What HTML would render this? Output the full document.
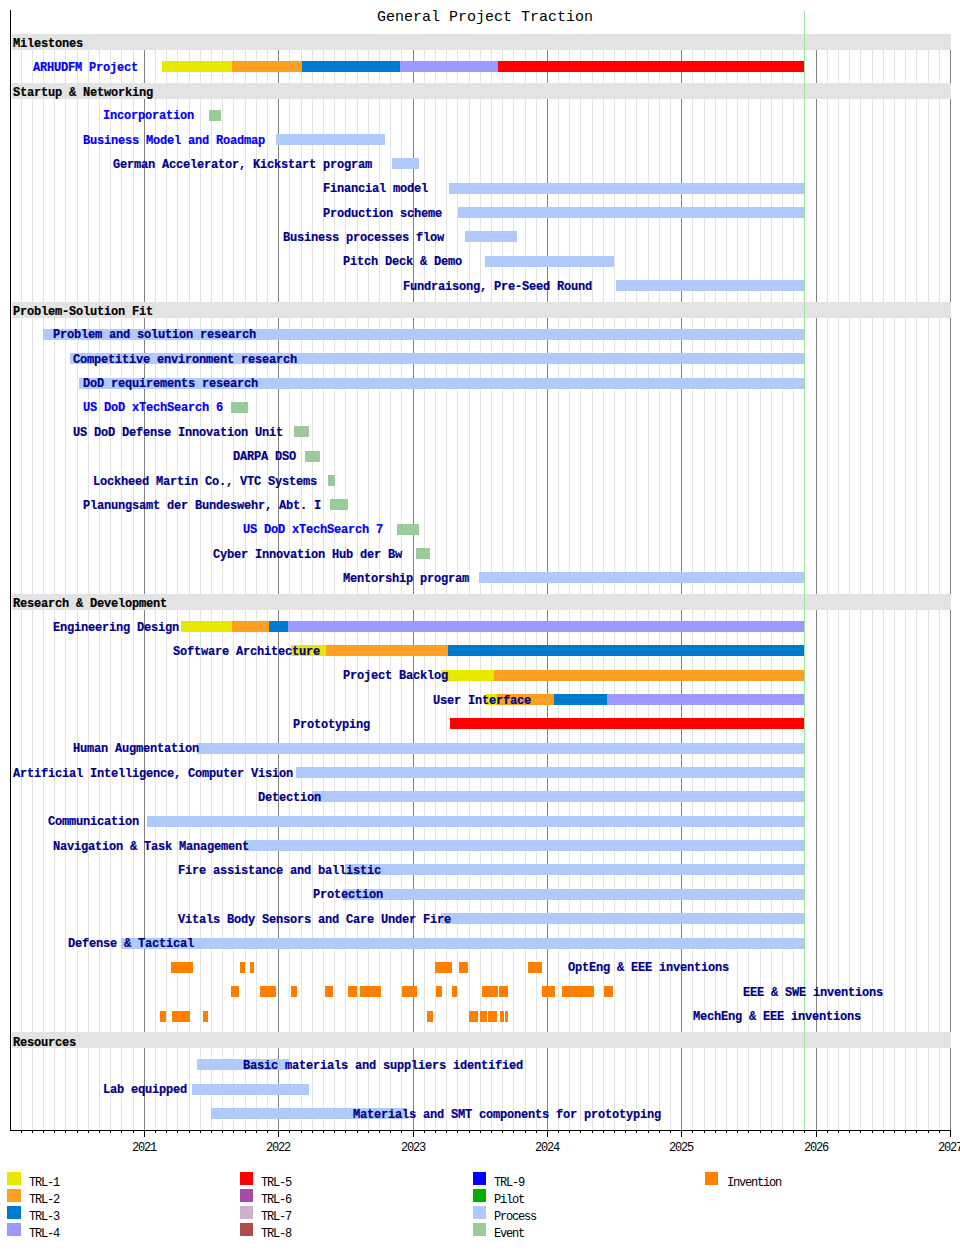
<!DOCTYPE html>
<html><head><meta charset="utf-8"><style>
html,body{margin:0;padding:0;background:#fff;width:960px;height:1250px;overflow:hidden;position:relative}
div{position:absolute}
.g{width:1px;background:#e3e3e3}
.y{width:1px;background:#808080}
.band{left:12px;width:939px;height:16px;background:#e3e3e3}
.bar{height:11px}
.t{font-family:"Liberation Mono",monospace;font-weight:bold;font-size:12px;letter-spacing:-0.2px;line-height:13px;white-space:pre;color:#00008b;-webkit-text-stroke:0.2px currentColor}
.tb{color:#0000ff}
.th{color:#000}
.s{font-family:"Liberation Mono",monospace;font-size:12px;letter-spacing:-1.2px;line-height:13px;white-space:pre;color:#000}
.ti{font-family:"Liberation Mono",monospace;font-size:15px;line-height:16px;white-space:pre;color:#000}
.lg{width:14px;height:13px}
</style></head><body>

<div class="ti" style="left:377px;top:10px">General Project Traction</div>
<div class="g" style="left:21px;top:50px;height:33px"></div>
<div class="g" style="left:21px;top:99px;height:203px"></div>
<div class="g" style="left:21px;top:318px;height:276px"></div>
<div class="g" style="left:21px;top:610px;height:422px"></div>
<div class="g" style="left:21px;top:1048px;height:82px"></div>
<div class="g" style="left:32px;top:50px;height:33px"></div>
<div class="g" style="left:32px;top:99px;height:203px"></div>
<div class="g" style="left:32px;top:318px;height:276px"></div>
<div class="g" style="left:32px;top:610px;height:422px"></div>
<div class="g" style="left:32px;top:1048px;height:82px"></div>
<div class="g" style="left:43px;top:50px;height:33px"></div>
<div class="g" style="left:43px;top:99px;height:203px"></div>
<div class="g" style="left:43px;top:318px;height:276px"></div>
<div class="g" style="left:43px;top:610px;height:422px"></div>
<div class="g" style="left:43px;top:1048px;height:82px"></div>
<div class="g" style="left:54px;top:50px;height:33px"></div>
<div class="g" style="left:54px;top:99px;height:203px"></div>
<div class="g" style="left:54px;top:318px;height:276px"></div>
<div class="g" style="left:54px;top:610px;height:422px"></div>
<div class="g" style="left:54px;top:1048px;height:82px"></div>
<div class="g" style="left:65px;top:50px;height:33px"></div>
<div class="g" style="left:65px;top:99px;height:203px"></div>
<div class="g" style="left:65px;top:318px;height:276px"></div>
<div class="g" style="left:65px;top:610px;height:422px"></div>
<div class="g" style="left:65px;top:1048px;height:82px"></div>
<div class="g" style="left:77px;top:50px;height:33px"></div>
<div class="g" style="left:77px;top:99px;height:203px"></div>
<div class="g" style="left:77px;top:318px;height:276px"></div>
<div class="g" style="left:77px;top:610px;height:422px"></div>
<div class="g" style="left:77px;top:1048px;height:82px"></div>
<div class="g" style="left:88px;top:50px;height:33px"></div>
<div class="g" style="left:88px;top:99px;height:203px"></div>
<div class="g" style="left:88px;top:318px;height:276px"></div>
<div class="g" style="left:88px;top:610px;height:422px"></div>
<div class="g" style="left:88px;top:1048px;height:82px"></div>
<div class="g" style="left:99px;top:50px;height:33px"></div>
<div class="g" style="left:99px;top:99px;height:203px"></div>
<div class="g" style="left:99px;top:318px;height:276px"></div>
<div class="g" style="left:99px;top:610px;height:422px"></div>
<div class="g" style="left:99px;top:1048px;height:82px"></div>
<div class="g" style="left:110px;top:50px;height:33px"></div>
<div class="g" style="left:110px;top:99px;height:203px"></div>
<div class="g" style="left:110px;top:318px;height:276px"></div>
<div class="g" style="left:110px;top:610px;height:422px"></div>
<div class="g" style="left:110px;top:1048px;height:82px"></div>
<div class="g" style="left:121px;top:50px;height:33px"></div>
<div class="g" style="left:121px;top:99px;height:203px"></div>
<div class="g" style="left:121px;top:318px;height:276px"></div>
<div class="g" style="left:121px;top:610px;height:422px"></div>
<div class="g" style="left:121px;top:1048px;height:82px"></div>
<div class="g" style="left:133px;top:50px;height:33px"></div>
<div class="g" style="left:133px;top:99px;height:203px"></div>
<div class="g" style="left:133px;top:318px;height:276px"></div>
<div class="g" style="left:133px;top:610px;height:422px"></div>
<div class="g" style="left:133px;top:1048px;height:82px"></div>
<div class="y" style="left:144px;top:50px;height:33px"></div>
<div class="y" style="left:144px;top:99px;height:203px"></div>
<div class="y" style="left:144px;top:318px;height:276px"></div>
<div class="y" style="left:144px;top:610px;height:422px"></div>
<div class="y" style="left:144px;top:1048px;height:82px"></div>
<div class="g" style="left:155px;top:50px;height:33px"></div>
<div class="g" style="left:155px;top:99px;height:203px"></div>
<div class="g" style="left:155px;top:318px;height:276px"></div>
<div class="g" style="left:155px;top:610px;height:422px"></div>
<div class="g" style="left:155px;top:1048px;height:82px"></div>
<div class="g" style="left:166px;top:50px;height:33px"></div>
<div class="g" style="left:166px;top:99px;height:203px"></div>
<div class="g" style="left:166px;top:318px;height:276px"></div>
<div class="g" style="left:166px;top:610px;height:422px"></div>
<div class="g" style="left:166px;top:1048px;height:82px"></div>
<div class="g" style="left:177px;top:50px;height:33px"></div>
<div class="g" style="left:177px;top:99px;height:203px"></div>
<div class="g" style="left:177px;top:318px;height:276px"></div>
<div class="g" style="left:177px;top:610px;height:422px"></div>
<div class="g" style="left:177px;top:1048px;height:82px"></div>
<div class="g" style="left:189px;top:50px;height:33px"></div>
<div class="g" style="left:189px;top:99px;height:203px"></div>
<div class="g" style="left:189px;top:318px;height:276px"></div>
<div class="g" style="left:189px;top:610px;height:422px"></div>
<div class="g" style="left:189px;top:1048px;height:82px"></div>
<div class="g" style="left:200px;top:50px;height:33px"></div>
<div class="g" style="left:200px;top:99px;height:203px"></div>
<div class="g" style="left:200px;top:318px;height:276px"></div>
<div class="g" style="left:200px;top:610px;height:422px"></div>
<div class="g" style="left:200px;top:1048px;height:82px"></div>
<div class="g" style="left:211px;top:50px;height:33px"></div>
<div class="g" style="left:211px;top:99px;height:203px"></div>
<div class="g" style="left:211px;top:318px;height:276px"></div>
<div class="g" style="left:211px;top:610px;height:422px"></div>
<div class="g" style="left:211px;top:1048px;height:82px"></div>
<div class="g" style="left:222px;top:50px;height:33px"></div>
<div class="g" style="left:222px;top:99px;height:203px"></div>
<div class="g" style="left:222px;top:318px;height:276px"></div>
<div class="g" style="left:222px;top:610px;height:422px"></div>
<div class="g" style="left:222px;top:1048px;height:82px"></div>
<div class="g" style="left:233px;top:50px;height:33px"></div>
<div class="g" style="left:233px;top:99px;height:203px"></div>
<div class="g" style="left:233px;top:318px;height:276px"></div>
<div class="g" style="left:233px;top:610px;height:422px"></div>
<div class="g" style="left:233px;top:1048px;height:82px"></div>
<div class="g" style="left:245px;top:50px;height:33px"></div>
<div class="g" style="left:245px;top:99px;height:203px"></div>
<div class="g" style="left:245px;top:318px;height:276px"></div>
<div class="g" style="left:245px;top:610px;height:422px"></div>
<div class="g" style="left:245px;top:1048px;height:82px"></div>
<div class="g" style="left:256px;top:50px;height:33px"></div>
<div class="g" style="left:256px;top:99px;height:203px"></div>
<div class="g" style="left:256px;top:318px;height:276px"></div>
<div class="g" style="left:256px;top:610px;height:422px"></div>
<div class="g" style="left:256px;top:1048px;height:82px"></div>
<div class="g" style="left:267px;top:50px;height:33px"></div>
<div class="g" style="left:267px;top:99px;height:203px"></div>
<div class="g" style="left:267px;top:318px;height:276px"></div>
<div class="g" style="left:267px;top:610px;height:422px"></div>
<div class="g" style="left:267px;top:1048px;height:82px"></div>
<div class="y" style="left:278px;top:50px;height:33px"></div>
<div class="y" style="left:278px;top:99px;height:203px"></div>
<div class="y" style="left:278px;top:318px;height:276px"></div>
<div class="y" style="left:278px;top:610px;height:422px"></div>
<div class="y" style="left:278px;top:1048px;height:82px"></div>
<div class="g" style="left:289px;top:50px;height:33px"></div>
<div class="g" style="left:289px;top:99px;height:203px"></div>
<div class="g" style="left:289px;top:318px;height:276px"></div>
<div class="g" style="left:289px;top:610px;height:422px"></div>
<div class="g" style="left:289px;top:1048px;height:82px"></div>
<div class="g" style="left:301px;top:50px;height:33px"></div>
<div class="g" style="left:301px;top:99px;height:203px"></div>
<div class="g" style="left:301px;top:318px;height:276px"></div>
<div class="g" style="left:301px;top:610px;height:422px"></div>
<div class="g" style="left:301px;top:1048px;height:82px"></div>
<div class="g" style="left:312px;top:50px;height:33px"></div>
<div class="g" style="left:312px;top:99px;height:203px"></div>
<div class="g" style="left:312px;top:318px;height:276px"></div>
<div class="g" style="left:312px;top:610px;height:422px"></div>
<div class="g" style="left:312px;top:1048px;height:82px"></div>
<div class="g" style="left:323px;top:50px;height:33px"></div>
<div class="g" style="left:323px;top:99px;height:203px"></div>
<div class="g" style="left:323px;top:318px;height:276px"></div>
<div class="g" style="left:323px;top:610px;height:422px"></div>
<div class="g" style="left:323px;top:1048px;height:82px"></div>
<div class="g" style="left:334px;top:50px;height:33px"></div>
<div class="g" style="left:334px;top:99px;height:203px"></div>
<div class="g" style="left:334px;top:318px;height:276px"></div>
<div class="g" style="left:334px;top:610px;height:422px"></div>
<div class="g" style="left:334px;top:1048px;height:82px"></div>
<div class="g" style="left:345px;top:50px;height:33px"></div>
<div class="g" style="left:345px;top:99px;height:203px"></div>
<div class="g" style="left:345px;top:318px;height:276px"></div>
<div class="g" style="left:345px;top:610px;height:422px"></div>
<div class="g" style="left:345px;top:1048px;height:82px"></div>
<div class="g" style="left:357px;top:50px;height:33px"></div>
<div class="g" style="left:357px;top:99px;height:203px"></div>
<div class="g" style="left:357px;top:318px;height:276px"></div>
<div class="g" style="left:357px;top:610px;height:422px"></div>
<div class="g" style="left:357px;top:1048px;height:82px"></div>
<div class="g" style="left:368px;top:50px;height:33px"></div>
<div class="g" style="left:368px;top:99px;height:203px"></div>
<div class="g" style="left:368px;top:318px;height:276px"></div>
<div class="g" style="left:368px;top:610px;height:422px"></div>
<div class="g" style="left:368px;top:1048px;height:82px"></div>
<div class="g" style="left:379px;top:50px;height:33px"></div>
<div class="g" style="left:379px;top:99px;height:203px"></div>
<div class="g" style="left:379px;top:318px;height:276px"></div>
<div class="g" style="left:379px;top:610px;height:422px"></div>
<div class="g" style="left:379px;top:1048px;height:82px"></div>
<div class="g" style="left:390px;top:50px;height:33px"></div>
<div class="g" style="left:390px;top:99px;height:203px"></div>
<div class="g" style="left:390px;top:318px;height:276px"></div>
<div class="g" style="left:390px;top:610px;height:422px"></div>
<div class="g" style="left:390px;top:1048px;height:82px"></div>
<div class="g" style="left:401px;top:50px;height:33px"></div>
<div class="g" style="left:401px;top:99px;height:203px"></div>
<div class="g" style="left:401px;top:318px;height:276px"></div>
<div class="g" style="left:401px;top:610px;height:422px"></div>
<div class="g" style="left:401px;top:1048px;height:82px"></div>
<div class="y" style="left:413px;top:50px;height:33px"></div>
<div class="y" style="left:413px;top:99px;height:203px"></div>
<div class="y" style="left:413px;top:318px;height:276px"></div>
<div class="y" style="left:413px;top:610px;height:422px"></div>
<div class="y" style="left:413px;top:1048px;height:82px"></div>
<div class="g" style="left:424px;top:50px;height:33px"></div>
<div class="g" style="left:424px;top:99px;height:203px"></div>
<div class="g" style="left:424px;top:318px;height:276px"></div>
<div class="g" style="left:424px;top:610px;height:422px"></div>
<div class="g" style="left:424px;top:1048px;height:82px"></div>
<div class="g" style="left:435px;top:50px;height:33px"></div>
<div class="g" style="left:435px;top:99px;height:203px"></div>
<div class="g" style="left:435px;top:318px;height:276px"></div>
<div class="g" style="left:435px;top:610px;height:422px"></div>
<div class="g" style="left:435px;top:1048px;height:82px"></div>
<div class="g" style="left:446px;top:50px;height:33px"></div>
<div class="g" style="left:446px;top:99px;height:203px"></div>
<div class="g" style="left:446px;top:318px;height:276px"></div>
<div class="g" style="left:446px;top:610px;height:422px"></div>
<div class="g" style="left:446px;top:1048px;height:82px"></div>
<div class="g" style="left:457px;top:50px;height:33px"></div>
<div class="g" style="left:457px;top:99px;height:203px"></div>
<div class="g" style="left:457px;top:318px;height:276px"></div>
<div class="g" style="left:457px;top:610px;height:422px"></div>
<div class="g" style="left:457px;top:1048px;height:82px"></div>
<div class="g" style="left:469px;top:50px;height:33px"></div>
<div class="g" style="left:469px;top:99px;height:203px"></div>
<div class="g" style="left:469px;top:318px;height:276px"></div>
<div class="g" style="left:469px;top:610px;height:422px"></div>
<div class="g" style="left:469px;top:1048px;height:82px"></div>
<div class="g" style="left:480px;top:50px;height:33px"></div>
<div class="g" style="left:480px;top:99px;height:203px"></div>
<div class="g" style="left:480px;top:318px;height:276px"></div>
<div class="g" style="left:480px;top:610px;height:422px"></div>
<div class="g" style="left:480px;top:1048px;height:82px"></div>
<div class="g" style="left:491px;top:50px;height:33px"></div>
<div class="g" style="left:491px;top:99px;height:203px"></div>
<div class="g" style="left:491px;top:318px;height:276px"></div>
<div class="g" style="left:491px;top:610px;height:422px"></div>
<div class="g" style="left:491px;top:1048px;height:82px"></div>
<div class="g" style="left:502px;top:50px;height:33px"></div>
<div class="g" style="left:502px;top:99px;height:203px"></div>
<div class="g" style="left:502px;top:318px;height:276px"></div>
<div class="g" style="left:502px;top:610px;height:422px"></div>
<div class="g" style="left:502px;top:1048px;height:82px"></div>
<div class="g" style="left:513px;top:50px;height:33px"></div>
<div class="g" style="left:513px;top:99px;height:203px"></div>
<div class="g" style="left:513px;top:318px;height:276px"></div>
<div class="g" style="left:513px;top:610px;height:422px"></div>
<div class="g" style="left:513px;top:1048px;height:82px"></div>
<div class="g" style="left:525px;top:50px;height:33px"></div>
<div class="g" style="left:525px;top:99px;height:203px"></div>
<div class="g" style="left:525px;top:318px;height:276px"></div>
<div class="g" style="left:525px;top:610px;height:422px"></div>
<div class="g" style="left:525px;top:1048px;height:82px"></div>
<div class="g" style="left:536px;top:50px;height:33px"></div>
<div class="g" style="left:536px;top:99px;height:203px"></div>
<div class="g" style="left:536px;top:318px;height:276px"></div>
<div class="g" style="left:536px;top:610px;height:422px"></div>
<div class="g" style="left:536px;top:1048px;height:82px"></div>
<div class="y" style="left:547px;top:50px;height:33px"></div>
<div class="y" style="left:547px;top:99px;height:203px"></div>
<div class="y" style="left:547px;top:318px;height:276px"></div>
<div class="y" style="left:547px;top:610px;height:422px"></div>
<div class="y" style="left:547px;top:1048px;height:82px"></div>
<div class="g" style="left:558px;top:50px;height:33px"></div>
<div class="g" style="left:558px;top:99px;height:203px"></div>
<div class="g" style="left:558px;top:318px;height:276px"></div>
<div class="g" style="left:558px;top:610px;height:422px"></div>
<div class="g" style="left:558px;top:1048px;height:82px"></div>
<div class="g" style="left:569px;top:50px;height:33px"></div>
<div class="g" style="left:569px;top:99px;height:203px"></div>
<div class="g" style="left:569px;top:318px;height:276px"></div>
<div class="g" style="left:569px;top:610px;height:422px"></div>
<div class="g" style="left:569px;top:1048px;height:82px"></div>
<div class="g" style="left:580px;top:50px;height:33px"></div>
<div class="g" style="left:580px;top:99px;height:203px"></div>
<div class="g" style="left:580px;top:318px;height:276px"></div>
<div class="g" style="left:580px;top:610px;height:422px"></div>
<div class="g" style="left:580px;top:1048px;height:82px"></div>
<div class="g" style="left:592px;top:50px;height:33px"></div>
<div class="g" style="left:592px;top:99px;height:203px"></div>
<div class="g" style="left:592px;top:318px;height:276px"></div>
<div class="g" style="left:592px;top:610px;height:422px"></div>
<div class="g" style="left:592px;top:1048px;height:82px"></div>
<div class="g" style="left:603px;top:50px;height:33px"></div>
<div class="g" style="left:603px;top:99px;height:203px"></div>
<div class="g" style="left:603px;top:318px;height:276px"></div>
<div class="g" style="left:603px;top:610px;height:422px"></div>
<div class="g" style="left:603px;top:1048px;height:82px"></div>
<div class="g" style="left:614px;top:50px;height:33px"></div>
<div class="g" style="left:614px;top:99px;height:203px"></div>
<div class="g" style="left:614px;top:318px;height:276px"></div>
<div class="g" style="left:614px;top:610px;height:422px"></div>
<div class="g" style="left:614px;top:1048px;height:82px"></div>
<div class="g" style="left:625px;top:50px;height:33px"></div>
<div class="g" style="left:625px;top:99px;height:203px"></div>
<div class="g" style="left:625px;top:318px;height:276px"></div>
<div class="g" style="left:625px;top:610px;height:422px"></div>
<div class="g" style="left:625px;top:1048px;height:82px"></div>
<div class="g" style="left:636px;top:50px;height:33px"></div>
<div class="g" style="left:636px;top:99px;height:203px"></div>
<div class="g" style="left:636px;top:318px;height:276px"></div>
<div class="g" style="left:636px;top:610px;height:422px"></div>
<div class="g" style="left:636px;top:1048px;height:82px"></div>
<div class="g" style="left:648px;top:50px;height:33px"></div>
<div class="g" style="left:648px;top:99px;height:203px"></div>
<div class="g" style="left:648px;top:318px;height:276px"></div>
<div class="g" style="left:648px;top:610px;height:422px"></div>
<div class="g" style="left:648px;top:1048px;height:82px"></div>
<div class="g" style="left:659px;top:50px;height:33px"></div>
<div class="g" style="left:659px;top:99px;height:203px"></div>
<div class="g" style="left:659px;top:318px;height:276px"></div>
<div class="g" style="left:659px;top:610px;height:422px"></div>
<div class="g" style="left:659px;top:1048px;height:82px"></div>
<div class="g" style="left:670px;top:50px;height:33px"></div>
<div class="g" style="left:670px;top:99px;height:203px"></div>
<div class="g" style="left:670px;top:318px;height:276px"></div>
<div class="g" style="left:670px;top:610px;height:422px"></div>
<div class="g" style="left:670px;top:1048px;height:82px"></div>
<div class="y" style="left:681px;top:50px;height:33px"></div>
<div class="y" style="left:681px;top:99px;height:203px"></div>
<div class="y" style="left:681px;top:318px;height:276px"></div>
<div class="y" style="left:681px;top:610px;height:422px"></div>
<div class="y" style="left:681px;top:1048px;height:82px"></div>
<div class="g" style="left:692px;top:50px;height:33px"></div>
<div class="g" style="left:692px;top:99px;height:203px"></div>
<div class="g" style="left:692px;top:318px;height:276px"></div>
<div class="g" style="left:692px;top:610px;height:422px"></div>
<div class="g" style="left:692px;top:1048px;height:82px"></div>
<div class="g" style="left:704px;top:50px;height:33px"></div>
<div class="g" style="left:704px;top:99px;height:203px"></div>
<div class="g" style="left:704px;top:318px;height:276px"></div>
<div class="g" style="left:704px;top:610px;height:422px"></div>
<div class="g" style="left:704px;top:1048px;height:82px"></div>
<div class="g" style="left:715px;top:50px;height:33px"></div>
<div class="g" style="left:715px;top:99px;height:203px"></div>
<div class="g" style="left:715px;top:318px;height:276px"></div>
<div class="g" style="left:715px;top:610px;height:422px"></div>
<div class="g" style="left:715px;top:1048px;height:82px"></div>
<div class="g" style="left:726px;top:50px;height:33px"></div>
<div class="g" style="left:726px;top:99px;height:203px"></div>
<div class="g" style="left:726px;top:318px;height:276px"></div>
<div class="g" style="left:726px;top:610px;height:422px"></div>
<div class="g" style="left:726px;top:1048px;height:82px"></div>
<div class="g" style="left:737px;top:50px;height:33px"></div>
<div class="g" style="left:737px;top:99px;height:203px"></div>
<div class="g" style="left:737px;top:318px;height:276px"></div>
<div class="g" style="left:737px;top:610px;height:422px"></div>
<div class="g" style="left:737px;top:1048px;height:82px"></div>
<div class="g" style="left:748px;top:50px;height:33px"></div>
<div class="g" style="left:748px;top:99px;height:203px"></div>
<div class="g" style="left:748px;top:318px;height:276px"></div>
<div class="g" style="left:748px;top:610px;height:422px"></div>
<div class="g" style="left:748px;top:1048px;height:82px"></div>
<div class="g" style="left:760px;top:50px;height:33px"></div>
<div class="g" style="left:760px;top:99px;height:203px"></div>
<div class="g" style="left:760px;top:318px;height:276px"></div>
<div class="g" style="left:760px;top:610px;height:422px"></div>
<div class="g" style="left:760px;top:1048px;height:82px"></div>
<div class="g" style="left:771px;top:50px;height:33px"></div>
<div class="g" style="left:771px;top:99px;height:203px"></div>
<div class="g" style="left:771px;top:318px;height:276px"></div>
<div class="g" style="left:771px;top:610px;height:422px"></div>
<div class="g" style="left:771px;top:1048px;height:82px"></div>
<div class="g" style="left:782px;top:50px;height:33px"></div>
<div class="g" style="left:782px;top:99px;height:203px"></div>
<div class="g" style="left:782px;top:318px;height:276px"></div>
<div class="g" style="left:782px;top:610px;height:422px"></div>
<div class="g" style="left:782px;top:1048px;height:82px"></div>
<div class="g" style="left:793px;top:50px;height:33px"></div>
<div class="g" style="left:793px;top:99px;height:203px"></div>
<div class="g" style="left:793px;top:318px;height:276px"></div>
<div class="g" style="left:793px;top:610px;height:422px"></div>
<div class="g" style="left:793px;top:1048px;height:82px"></div>
<div class="g" style="left:804px;top:50px;height:33px"></div>
<div class="g" style="left:804px;top:99px;height:203px"></div>
<div class="g" style="left:804px;top:318px;height:276px"></div>
<div class="g" style="left:804px;top:610px;height:422px"></div>
<div class="g" style="left:804px;top:1048px;height:82px"></div>
<div class="y" style="left:816px;top:50px;height:33px"></div>
<div class="y" style="left:816px;top:99px;height:203px"></div>
<div class="y" style="left:816px;top:318px;height:276px"></div>
<div class="y" style="left:816px;top:610px;height:422px"></div>
<div class="y" style="left:816px;top:1048px;height:82px"></div>
<div class="g" style="left:827px;top:50px;height:33px"></div>
<div class="g" style="left:827px;top:99px;height:203px"></div>
<div class="g" style="left:827px;top:318px;height:276px"></div>
<div class="g" style="left:827px;top:610px;height:422px"></div>
<div class="g" style="left:827px;top:1048px;height:82px"></div>
<div class="g" style="left:838px;top:50px;height:33px"></div>
<div class="g" style="left:838px;top:99px;height:203px"></div>
<div class="g" style="left:838px;top:318px;height:276px"></div>
<div class="g" style="left:838px;top:610px;height:422px"></div>
<div class="g" style="left:838px;top:1048px;height:82px"></div>
<div class="g" style="left:849px;top:50px;height:33px"></div>
<div class="g" style="left:849px;top:99px;height:203px"></div>
<div class="g" style="left:849px;top:318px;height:276px"></div>
<div class="g" style="left:849px;top:610px;height:422px"></div>
<div class="g" style="left:849px;top:1048px;height:82px"></div>
<div class="g" style="left:860px;top:50px;height:33px"></div>
<div class="g" style="left:860px;top:99px;height:203px"></div>
<div class="g" style="left:860px;top:318px;height:276px"></div>
<div class="g" style="left:860px;top:610px;height:422px"></div>
<div class="g" style="left:860px;top:1048px;height:82px"></div>
<div class="g" style="left:872px;top:50px;height:33px"></div>
<div class="g" style="left:872px;top:99px;height:203px"></div>
<div class="g" style="left:872px;top:318px;height:276px"></div>
<div class="g" style="left:872px;top:610px;height:422px"></div>
<div class="g" style="left:872px;top:1048px;height:82px"></div>
<div class="g" style="left:883px;top:50px;height:33px"></div>
<div class="g" style="left:883px;top:99px;height:203px"></div>
<div class="g" style="left:883px;top:318px;height:276px"></div>
<div class="g" style="left:883px;top:610px;height:422px"></div>
<div class="g" style="left:883px;top:1048px;height:82px"></div>
<div class="g" style="left:894px;top:50px;height:33px"></div>
<div class="g" style="left:894px;top:99px;height:203px"></div>
<div class="g" style="left:894px;top:318px;height:276px"></div>
<div class="g" style="left:894px;top:610px;height:422px"></div>
<div class="g" style="left:894px;top:1048px;height:82px"></div>
<div class="g" style="left:905px;top:50px;height:33px"></div>
<div class="g" style="left:905px;top:99px;height:203px"></div>
<div class="g" style="left:905px;top:318px;height:276px"></div>
<div class="g" style="left:905px;top:610px;height:422px"></div>
<div class="g" style="left:905px;top:1048px;height:82px"></div>
<div class="g" style="left:916px;top:50px;height:33px"></div>
<div class="g" style="left:916px;top:99px;height:203px"></div>
<div class="g" style="left:916px;top:318px;height:276px"></div>
<div class="g" style="left:916px;top:610px;height:422px"></div>
<div class="g" style="left:916px;top:1048px;height:82px"></div>
<div class="g" style="left:928px;top:50px;height:33px"></div>
<div class="g" style="left:928px;top:99px;height:203px"></div>
<div class="g" style="left:928px;top:318px;height:276px"></div>
<div class="g" style="left:928px;top:610px;height:422px"></div>
<div class="g" style="left:928px;top:1048px;height:82px"></div>
<div class="g" style="left:939px;top:50px;height:33px"></div>
<div class="g" style="left:939px;top:99px;height:203px"></div>
<div class="g" style="left:939px;top:318px;height:276px"></div>
<div class="g" style="left:939px;top:610px;height:422px"></div>
<div class="g" style="left:939px;top:1048px;height:82px"></div>
<div class="y" style="left:950px;top:50px;height:33px"></div>
<div class="y" style="left:950px;top:99px;height:203px"></div>
<div class="y" style="left:950px;top:318px;height:276px"></div>
<div class="y" style="left:950px;top:610px;height:422px"></div>
<div class="y" style="left:950px;top:1048px;height:82px"></div>
<div class="band" style="top:34px"></div>
<div class="band" style="top:83px"></div>
<div class="band" style="top:302px"></div>
<div class="band" style="top:594px"></div>
<div class="band" style="top:1032px"></div>
<div class="bar" style="left:162px;top:61px;width:70px;background:#e8e800"></div>
<div class="bar" style="left:232px;top:61px;width:70px;background:#ff9f22"></div>
<div class="bar" style="left:302px;top:61px;width:98px;background:#007acc"></div>
<div class="bar" style="left:400px;top:61px;width:98px;background:#9999ff"></div>
<div class="bar" style="left:498px;top:61px;width:306px;background:#ff0000"></div>
<div class="bar" style="left:209px;top:110px;width:12px;background:#9acb9a"></div>
<div class="bar" style="left:276px;top:134px;width:109px;background:#b0cbfb"></div>
<div class="bar" style="left:392px;top:158px;width:27px;background:#b0cbfb"></div>
<div class="bar" style="left:449px;top:183px;width:355px;background:#b0cbfb"></div>
<div class="bar" style="left:458px;top:207px;width:346px;background:#b0cbfb"></div>
<div class="bar" style="left:465px;top:231px;width:52px;background:#b0cbfb"></div>
<div class="bar" style="left:485px;top:256px;width:129px;background:#b0cbfb"></div>
<div class="bar" style="left:616px;top:280px;width:188px;background:#b0cbfb"></div>
<div class="bar" style="left:43px;top:329px;width:761px;background:#b0cbfb"></div>
<div class="bar" style="left:70px;top:353px;width:734px;background:#b0cbfb"></div>
<div class="bar" style="left:79px;top:378px;width:725px;background:#b0cbfb"></div>
<div class="bar" style="left:231px;top:402px;width:17px;background:#9acb9a"></div>
<div class="bar" style="left:294px;top:426px;width:15px;background:#9acb9a"></div>
<div class="bar" style="left:305px;top:451px;width:15px;background:#9acb9a"></div>
<div class="bar" style="left:328px;top:475px;width:7px;background:#9acb9a"></div>
<div class="bar" style="left:330px;top:499px;width:18px;background:#9acb9a"></div>
<div class="bar" style="left:397px;top:524px;width:22px;background:#9acb9a"></div>
<div class="bar" style="left:416px;top:548px;width:14px;background:#9acb9a"></div>
<div class="bar" style="left:479px;top:572px;width:325px;background:#b0cbfb"></div>
<div class="bar" style="left:181px;top:621px;width:51px;background:#e8e800"></div>
<div class="bar" style="left:232px;top:621px;width:37px;background:#ff9f22"></div>
<div class="bar" style="left:269px;top:621px;width:19px;background:#007acc"></div>
<div class="bar" style="left:288px;top:621px;width:516px;background:#9999ff"></div>
<div class="bar" style="left:291px;top:645px;width:35px;background:#e8e800"></div>
<div class="bar" style="left:326px;top:645px;width:122px;background:#ff9f22"></div>
<div class="bar" style="left:448px;top:645px;width:356px;background:#007acc"></div>
<div class="bar" style="left:441px;top:670px;width:53px;background:#e8e800"></div>
<div class="bar" style="left:494px;top:670px;width:310px;background:#ff9f22"></div>
<div class="bar" style="left:486px;top:694px;width:11px;background:#e8e800"></div>
<div class="bar" style="left:497px;top:694px;width:57px;background:#ff9f22"></div>
<div class="bar" style="left:554px;top:694px;width:53px;background:#007acc"></div>
<div class="bar" style="left:607px;top:694px;width:197px;background:#9999ff"></div>
<div class="bar" style="left:450px;top:718px;width:354px;background:#ff0000"></div>
<div class="bar" style="left:197px;top:743px;width:607px;background:#b0cbfb"></div>
<div class="bar" style="left:296px;top:767px;width:508px;background:#b0cbfb"></div>
<div class="bar" style="left:312px;top:791px;width:492px;background:#b0cbfb"></div>
<div class="bar" style="left:147px;top:816px;width:657px;background:#b0cbfb"></div>
<div class="bar" style="left:244px;top:840px;width:560px;background:#b0cbfb"></div>
<div class="bar" style="left:345px;top:864px;width:459px;background:#b0cbfb"></div>
<div class="bar" style="left:343px;top:889px;width:461px;background:#b0cbfb"></div>
<div class="bar" style="left:441px;top:913px;width:363px;background:#b0cbfb"></div>
<div class="bar" style="left:121px;top:938px;width:683px;background:#b0cbfb"></div>
<div class="bar" style="left:171px;top:962px;width:22px;background:#ff8000"></div>
<div class="bar" style="left:240px;top:962px;width:5px;background:#ff8000"></div>
<div class="bar" style="left:250px;top:962px;width:4px;background:#ff8000"></div>
<div class="bar" style="left:435px;top:962px;width:17px;background:#ff8000"></div>
<div class="bar" style="left:459px;top:962px;width:9px;background:#ff8000"></div>
<div class="bar" style="left:528px;top:962px;width:14px;background:#ff8000"></div>
<div class="bar" style="left:231px;top:986px;width:8px;background:#ff8000"></div>
<div class="bar" style="left:260px;top:986px;width:16px;background:#ff8000"></div>
<div class="bar" style="left:291px;top:986px;width:6px;background:#ff8000"></div>
<div class="bar" style="left:325px;top:986px;width:8px;background:#ff8000"></div>
<div class="bar" style="left:348px;top:986px;width:9px;background:#ff8000"></div>
<div class="bar" style="left:360px;top:986px;width:21px;background:#ff8000"></div>
<div class="bar" style="left:402px;top:986px;width:15px;background:#ff8000"></div>
<div class="bar" style="left:436px;top:986px;width:6px;background:#ff8000"></div>
<div class="bar" style="left:452px;top:986px;width:5px;background:#ff8000"></div>
<div class="bar" style="left:482px;top:986px;width:16px;background:#ff8000"></div>
<div class="bar" style="left:499px;top:986px;width:9px;background:#ff8000"></div>
<div class="bar" style="left:542px;top:986px;width:13px;background:#ff8000"></div>
<div class="bar" style="left:562px;top:986px;width:32px;background:#ff8000"></div>
<div class="bar" style="left:604px;top:986px;width:9px;background:#ff8000"></div>
<div class="bar" style="left:160px;top:1011px;width:6px;background:#ff8000"></div>
<div class="bar" style="left:172px;top:1011px;width:18px;background:#ff8000"></div>
<div class="bar" style="left:203px;top:1011px;width:5px;background:#ff8000"></div>
<div class="bar" style="left:427px;top:1011px;width:6px;background:#ff8000"></div>
<div class="bar" style="left:469px;top:1011px;width:9px;background:#ff8000"></div>
<div class="bar" style="left:480px;top:1011px;width:7px;background:#ff8000"></div>
<div class="bar" style="left:488px;top:1011px;width:9px;background:#ff8000"></div>
<div class="bar" style="left:500px;top:1011px;width:4px;background:#ff8000"></div>
<div class="bar" style="left:505px;top:1011px;width:3px;background:#ff8000"></div>
<div class="bar" style="left:197px;top:1059px;width:92px;background:#b0cbfb"></div>
<div class="bar" style="left:192px;top:1084px;width:117px;background:#b0cbfb"></div>
<div class="bar" style="left:211px;top:1108px;width:196px;background:#b0cbfb"></div>
<div style="left:804px;top:11px;width:1px;height:1119px;background:#98e498"></div>
<div class="t tb" style="left:33px;top:62px">ARHUDFM Project</div>
<div class="t tb" style="left:103px;top:110px">Incorporation</div>
<div class="t tb" style="left:83px;top:135px">Business Model and Roadmap</div>
<div class="t" style="left:113px;top:159px">German Accelerator, Kickstart program</div>
<div class="t" style="left:323px;top:183px">Financial model</div>
<div class="t" style="left:323px;top:208px">Production scheme</div>
<div class="t" style="left:283px;top:232px">Business processes flow</div>
<div class="t" style="left:343px;top:256px">Pitch Deck &amp; Demo</div>
<div class="t" style="left:403px;top:281px">Fundraisong, Pre-Seed Round</div>
<div class="t" style="left:53px;top:329px">Problem and solution research</div>
<div class="t" style="left:73px;top:354px">Competitive environment research</div>
<div class="t" style="left:83px;top:378px">DoD requirements research</div>
<div class="t tb" style="left:83px;top:402px">US DoD xTechSearch 6</div>
<div class="t" style="left:73px;top:427px">US DoD Defense Innovation Unit</div>
<div class="t" style="left:233px;top:451px">DARPA DSO</div>
<div class="t" style="left:93px;top:476px">Lockheed Martin Co., VTC Systems</div>
<div class="t" style="left:83px;top:500px">Planungsamt der Bundeswehr, Abt. I</div>
<div class="t tb" style="left:243px;top:524px">US DoD xTechSearch 7</div>
<div class="t" style="left:213px;top:549px">Cyber Innovation Hub der Bw</div>
<div class="t" style="left:343px;top:573px">Mentorship program</div>
<div class="t" style="left:53px;top:622px">Engineering Design</div>
<div class="t" style="left:173px;top:646px">Software Architecture</div>
<div class="t" style="left:343px;top:670px">Project Backlog</div>
<div class="t" style="left:433px;top:695px">User Interface</div>
<div class="t" style="left:293px;top:719px">Prototyping</div>
<div class="t" style="left:73px;top:743px">Human Augmentation</div>
<div class="t" style="left:13px;top:768px">Artificial Intelligence, Computer Vision</div>
<div class="t" style="left:258px;top:792px">Detection</div>
<div class="t" style="left:48px;top:816px">Communication</div>
<div class="t" style="left:53px;top:841px">Navigation &amp; Task Management</div>
<div class="t" style="left:178px;top:865px">Fire assistance and ballistic</div>
<div class="t" style="left:313px;top:889px">Protection</div>
<div class="t" style="left:178px;top:914px">Vitals Body Sensors and Care Under Fire</div>
<div class="t" style="left:68px;top:938px">Defense &amp; Tactical</div>
<div class="t" style="left:568px;top:962px">OptEng &amp; EEE inventions</div>
<div class="t" style="left:743px;top:987px">EEE &amp; SWE inventions</div>
<div class="t" style="left:693px;top:1011px">MechEng &amp; EEE inventions</div>
<div class="t" style="left:243px;top:1060px">Basic materials and suppliers identified</div>
<div class="t" style="left:103px;top:1084px">Lab equipped</div>
<div class="t" style="left:353px;top:1109px">Materials and SMT components for prototyping</div>
<div class="t th" style="left:13px;top:38px">Milestones</div>
<div class="t th" style="left:13px;top:87px">Startup &amp; Networking</div>
<div class="t th" style="left:13px;top:306px">Problem-Solution Fit</div>
<div class="t th" style="left:13px;top:598px">Research &amp; Development</div>
<div class="t th" style="left:13px;top:1037px">Resources</div>
<div style="left:10px;top:10px;width:1px;height:1121px;background:#000"></div>
<div style="left:10px;top:1130px;width:941px;height:1px;background:#000"></div>
<div style="left:21px;top:1131px;width:1px;height:2px;background:#000"></div>
<div style="left:32px;top:1131px;width:1px;height:2px;background:#000"></div>
<div style="left:43px;top:1131px;width:1px;height:2px;background:#000"></div>
<div style="left:54px;top:1131px;width:1px;height:2px;background:#000"></div>
<div style="left:65px;top:1131px;width:1px;height:2px;background:#000"></div>
<div style="left:77px;top:1131px;width:1px;height:2px;background:#000"></div>
<div style="left:88px;top:1131px;width:1px;height:2px;background:#000"></div>
<div style="left:99px;top:1131px;width:1px;height:2px;background:#000"></div>
<div style="left:110px;top:1131px;width:1px;height:2px;background:#000"></div>
<div style="left:121px;top:1131px;width:1px;height:2px;background:#000"></div>
<div style="left:133px;top:1131px;width:1px;height:2px;background:#000"></div>
<div style="left:144px;top:1131px;width:1px;height:6px;background:#000"></div>
<div style="left:155px;top:1131px;width:1px;height:2px;background:#000"></div>
<div style="left:166px;top:1131px;width:1px;height:2px;background:#000"></div>
<div style="left:177px;top:1131px;width:1px;height:2px;background:#000"></div>
<div style="left:189px;top:1131px;width:1px;height:2px;background:#000"></div>
<div style="left:200px;top:1131px;width:1px;height:2px;background:#000"></div>
<div style="left:211px;top:1131px;width:1px;height:2px;background:#000"></div>
<div style="left:222px;top:1131px;width:1px;height:2px;background:#000"></div>
<div style="left:233px;top:1131px;width:1px;height:2px;background:#000"></div>
<div style="left:245px;top:1131px;width:1px;height:2px;background:#000"></div>
<div style="left:256px;top:1131px;width:1px;height:2px;background:#000"></div>
<div style="left:267px;top:1131px;width:1px;height:2px;background:#000"></div>
<div style="left:278px;top:1131px;width:1px;height:6px;background:#000"></div>
<div style="left:289px;top:1131px;width:1px;height:2px;background:#000"></div>
<div style="left:301px;top:1131px;width:1px;height:2px;background:#000"></div>
<div style="left:312px;top:1131px;width:1px;height:2px;background:#000"></div>
<div style="left:323px;top:1131px;width:1px;height:2px;background:#000"></div>
<div style="left:334px;top:1131px;width:1px;height:2px;background:#000"></div>
<div style="left:345px;top:1131px;width:1px;height:2px;background:#000"></div>
<div style="left:357px;top:1131px;width:1px;height:2px;background:#000"></div>
<div style="left:368px;top:1131px;width:1px;height:2px;background:#000"></div>
<div style="left:379px;top:1131px;width:1px;height:2px;background:#000"></div>
<div style="left:390px;top:1131px;width:1px;height:2px;background:#000"></div>
<div style="left:401px;top:1131px;width:1px;height:2px;background:#000"></div>
<div style="left:413px;top:1131px;width:1px;height:6px;background:#000"></div>
<div style="left:424px;top:1131px;width:1px;height:2px;background:#000"></div>
<div style="left:435px;top:1131px;width:1px;height:2px;background:#000"></div>
<div style="left:446px;top:1131px;width:1px;height:2px;background:#000"></div>
<div style="left:457px;top:1131px;width:1px;height:2px;background:#000"></div>
<div style="left:469px;top:1131px;width:1px;height:2px;background:#000"></div>
<div style="left:480px;top:1131px;width:1px;height:2px;background:#000"></div>
<div style="left:491px;top:1131px;width:1px;height:2px;background:#000"></div>
<div style="left:502px;top:1131px;width:1px;height:2px;background:#000"></div>
<div style="left:513px;top:1131px;width:1px;height:2px;background:#000"></div>
<div style="left:525px;top:1131px;width:1px;height:2px;background:#000"></div>
<div style="left:536px;top:1131px;width:1px;height:2px;background:#000"></div>
<div style="left:547px;top:1131px;width:1px;height:6px;background:#000"></div>
<div style="left:558px;top:1131px;width:1px;height:2px;background:#000"></div>
<div style="left:569px;top:1131px;width:1px;height:2px;background:#000"></div>
<div style="left:580px;top:1131px;width:1px;height:2px;background:#000"></div>
<div style="left:592px;top:1131px;width:1px;height:2px;background:#000"></div>
<div style="left:603px;top:1131px;width:1px;height:2px;background:#000"></div>
<div style="left:614px;top:1131px;width:1px;height:2px;background:#000"></div>
<div style="left:625px;top:1131px;width:1px;height:2px;background:#000"></div>
<div style="left:636px;top:1131px;width:1px;height:2px;background:#000"></div>
<div style="left:648px;top:1131px;width:1px;height:2px;background:#000"></div>
<div style="left:659px;top:1131px;width:1px;height:2px;background:#000"></div>
<div style="left:670px;top:1131px;width:1px;height:2px;background:#000"></div>
<div style="left:681px;top:1131px;width:1px;height:6px;background:#000"></div>
<div style="left:692px;top:1131px;width:1px;height:2px;background:#000"></div>
<div style="left:704px;top:1131px;width:1px;height:2px;background:#000"></div>
<div style="left:715px;top:1131px;width:1px;height:2px;background:#000"></div>
<div style="left:726px;top:1131px;width:1px;height:2px;background:#000"></div>
<div style="left:737px;top:1131px;width:1px;height:2px;background:#000"></div>
<div style="left:748px;top:1131px;width:1px;height:2px;background:#000"></div>
<div style="left:760px;top:1131px;width:1px;height:2px;background:#000"></div>
<div style="left:771px;top:1131px;width:1px;height:2px;background:#000"></div>
<div style="left:782px;top:1131px;width:1px;height:2px;background:#000"></div>
<div style="left:793px;top:1131px;width:1px;height:2px;background:#000"></div>
<div style="left:804px;top:1131px;width:1px;height:2px;background:#000"></div>
<div style="left:816px;top:1131px;width:1px;height:6px;background:#000"></div>
<div style="left:827px;top:1131px;width:1px;height:2px;background:#000"></div>
<div style="left:838px;top:1131px;width:1px;height:2px;background:#000"></div>
<div style="left:849px;top:1131px;width:1px;height:2px;background:#000"></div>
<div style="left:860px;top:1131px;width:1px;height:2px;background:#000"></div>
<div style="left:872px;top:1131px;width:1px;height:2px;background:#000"></div>
<div style="left:883px;top:1131px;width:1px;height:2px;background:#000"></div>
<div style="left:894px;top:1131px;width:1px;height:2px;background:#000"></div>
<div style="left:905px;top:1131px;width:1px;height:2px;background:#000"></div>
<div style="left:916px;top:1131px;width:1px;height:2px;background:#000"></div>
<div style="left:928px;top:1131px;width:1px;height:2px;background:#000"></div>
<div style="left:939px;top:1131px;width:1px;height:2px;background:#000"></div>
<div style="left:950px;top:1131px;width:1px;height:6px;background:#000"></div>
<div class="s" style="left:132px;top:1142px">2021</div>
<div class="s" style="left:266px;top:1142px">2022</div>
<div class="s" style="left:401px;top:1142px">2023</div>
<div class="s" style="left:535px;top:1142px">2024</div>
<div class="s" style="left:669px;top:1142px">2025</div>
<div class="s" style="left:804px;top:1142px">2026</div>
<div class="s" style="left:938px;top:1142px">2027</div>
<div class="lg" style="left:7px;top:1172px;width:14px;background:#e8e800"></div>
<div class="s" style="left:29px;top:1177px">TRL-1</div>
<div class="lg" style="left:7px;top:1189px;width:14px;background:#ff9f22"></div>
<div class="s" style="left:29px;top:1194px">TRL-2</div>
<div class="lg" style="left:7px;top:1206px;width:14px;background:#007acc"></div>
<div class="s" style="left:29px;top:1211px">TRL-3</div>
<div class="lg" style="left:7px;top:1223px;width:14px;background:#9999ff"></div>
<div class="s" style="left:29px;top:1228px">TRL-4</div>
<div class="lg" style="left:240px;top:1172px;width:13px;background:#ff0000"></div>
<div class="s" style="left:261px;top:1177px">TRL-5</div>
<div class="lg" style="left:240px;top:1189px;width:13px;background:#a64ca6"></div>
<div class="s" style="left:261px;top:1194px">TRL-6</div>
<div class="lg" style="left:240px;top:1206px;width:13px;background:#ccb0cc"></div>
<div class="s" style="left:261px;top:1211px">TRL-7</div>
<div class="lg" style="left:240px;top:1223px;width:13px;background:#b04c4c"></div>
<div class="s" style="left:261px;top:1228px">TRL-8</div>
<div class="lg" style="left:473px;top:1172px;width:13px;background:#0000ff"></div>
<div class="s" style="left:494px;top:1177px">TRL-9</div>
<div class="lg" style="left:473px;top:1189px;width:13px;background:#00b000"></div>
<div class="s" style="left:494px;top:1194px">Pilot</div>
<div class="lg" style="left:473px;top:1206px;width:13px;background:#b0cbfb"></div>
<div class="s" style="left:494px;top:1211px">Process</div>
<div class="lg" style="left:473px;top:1223px;width:13px;background:#9acb9a"></div>
<div class="s" style="left:494px;top:1228px">Event</div>
<div class="lg" style="left:705px;top:1172px;width:13px;background:#ff8000"></div>
<div class="s" style="left:727px;top:1177px">Invention</div>
</body></html>
